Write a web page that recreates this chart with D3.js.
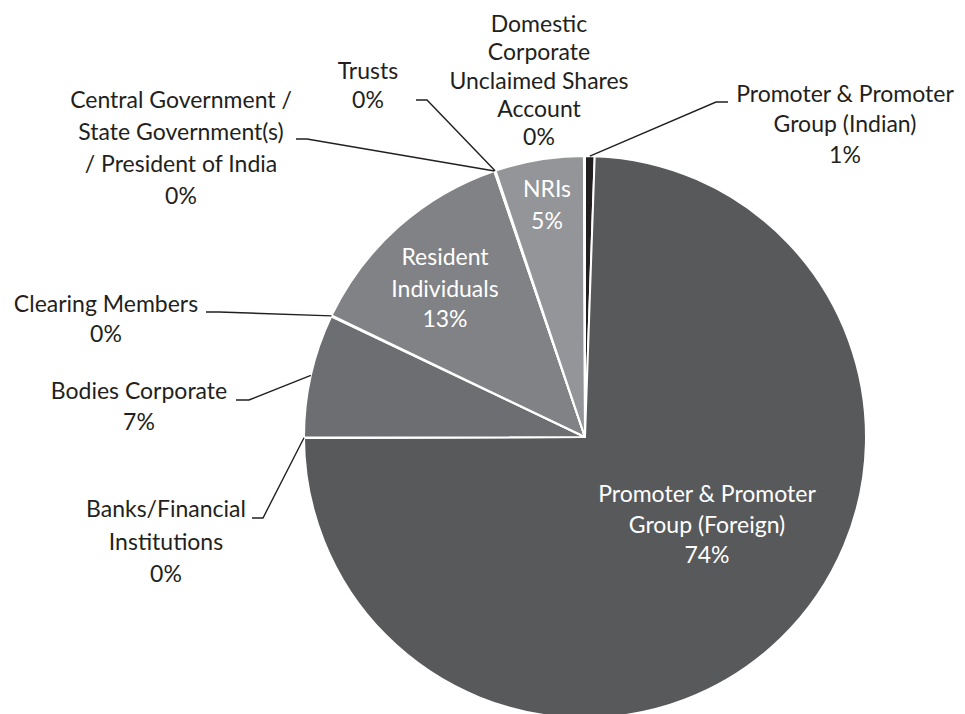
<!DOCTYPE html>
<html>
<head>
<meta charset="utf-8">
<script src="https://cdn.jsdelivr.net/npm/d3@7/dist/d3.min.js"></script>
<style>
  html, body { margin: 0; padding: 0; background: #ffffff; }
  svg { display: block; }
  text { font-family: Lato, "Open Sans", sans-serif; }
</style>
</head>
<body>
<svg id="chart" width="965" height="714"></svg>
<script>
// ---- data (clockwise from 12 o'clock) ----
const categories = [
  "Promoter & Promoter Group (Indian)",
  "Promoter & Promoter Group (Foreign)",
  "Banks/Financial Institutions",
  "Bodies Corporate",
  "Clearing Members",
  "Resident Individuals",
  "Central Government / State Government(s) / President of India",
  "Trusts",
  "NRIs",
  "Domestic Corporate Unclaimed Shares Account"
];
const labelLines = [
  ["Promoter & Promoter", "Group (Indian)"],
  ["Promoter & Promoter", "Group (Foreign)"],
  ["Banks/Financial", "Institutions"],
  ["Bodies Corporate"],
  ["Clearing Members"],
  ["Resident", "Individuals"],
  ["Central Government /", "State Government(s)", "/ President of India"],
  ["Trusts"],
  ["NRIs"],
  ["Domestic", "Corporate", "Unclaimed Shares", "Account"]
];
const values = [0.55, 74.4, 0.02, 7.1, 0.05, 12.65, 0.02, 0.05, 5.1, 0.06];

// ---- styling / layout ----
const colors = ["#231f20", "#58595b", "#58595b", "#6d6e71", "#6d6e71",
                "#808285", "#808285", "#808285", "#939598", "#939598"];
const cx = 585, cy = 437, R = 281;
const fontSize = 23;
// label layout: x center, baselines, inside (white) or outside, leader horizontal segment
const layout = [
  { x: 845, ys: [102, 132, 163], inside: false, hook: [[728, 102], [716, 102]] },
  { x: 707, ys: [502, 533, 563], inside: true },
  { x: 166, ys: [517, 550, 582], inside: false, hook: [[252, 518], [263, 518]] },
  { x: 139, ys: [399, 430], inside: false, hook: [[236, 400], [249, 400]] },
  { x: 106, ys: [312, 342], inside: false, hook: [[206, 312], [219, 312]] },
  { x: 445, ys: [265, 297, 327], inside: true },
  { x: 181, ys: [108, 140, 172, 204], inside: false, hook: [[296, 139], [307, 139]] },
  { x: 368, ys: [79, 108], inside: false, hook: [[416, 100], [427, 100]] },
  { x: 547, ys: [197, 229], inside: true },
  { x: 539, ys: [32, 60, 89, 117, 145], inside: false }
];

const svg = d3.select("#chart");
const total = d3.sum(values);
const pie = d3.pie().sort(null).value(d => d).startAngle(0).endAngle(2 * Math.PI);
const arcs = pie(values);
const arc = d3.arc().innerRadius(0).outerRadius(R);

const g = svg.append("g").attr("transform", `translate(${cx},${cy})`);
g.selectAll("path.slice")
  .data(arcs)
  .join("path")
  .attr("class", "slice")
  .attr("d", arc)
  .attr("fill", (d, i) => colors[i])
  .attr("stroke", "#ffffff")
  .attr("stroke-width", 2)
  .attr("stroke-linejoin", "round");

// leader lines
const pct = v => Math.round(v / total * 100) + "%";
arcs.forEach((d, i) => {
  const L = layout[i];
  if (L.inside || !L.hook) return;
  const mid = (d.startAngle + d.endAngle) / 2;
  const px = cx + R * Math.sin(mid), py = cy - R * Math.cos(mid);
  const line = d3.line();
  svg.append("path")
    .attr("d", line([L.hook[0], L.hook[1], [px, py]]))
    .attr("fill", "none")
    .attr("stroke", "#231f20")
    .attr("stroke-width", 1.4);
});

// labels
arcs.forEach((d, i) => {
  const L = layout[i];
  const lines = labelLines[i].concat([pct(d.value)]);
  const t = svg.append("text")
    .attr("text-anchor", "middle")
    .attr("font-size", fontSize)
    .attr("fill", L.inside ? "#ffffff" : "#231f20");
  lines.forEach((s, k) => {
    t.append("tspan").attr("x", L.x).attr("y", L.ys[k]).text(s);
  });
});
</script>
</body>
</html>
